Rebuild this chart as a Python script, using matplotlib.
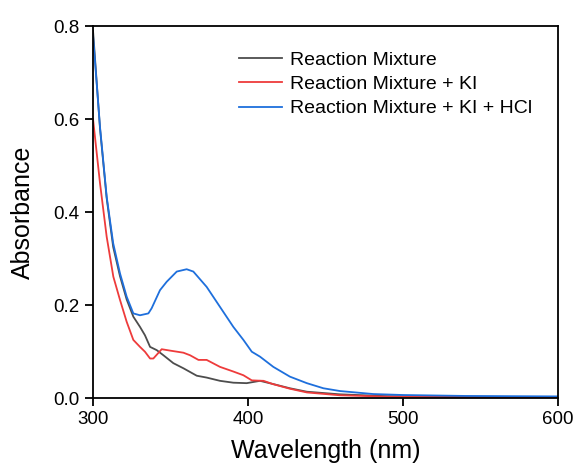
import matplotlib.pyplot as plt
import numpy as np

plt.rcParams['font.family'] = ['Liberation Sans', 'DejaVu Sans']

# Wavelength (nm) and absorbance values
wl_mix = [300, 304.5, 308.8, 313, 317.4, 321.7, 326, 330.3, 333.5, 336.8, 341.1, 345.4,
          351.8, 358.3, 366.9, 373.3, 381.9, 390.5, 399.1, 407.7, 416.3, 427, 437.9,
          459, 490, 530, 600]
abs_mix = [0.79, 0.58, 0.43, 0.325, 0.262, 0.212, 0.175, 0.153, 0.135, 0.110, 0.103, 0.092,
           0.075, 0.064, 0.048, 0.044, 0.037, 0.033, 0.032, 0.037, 0.030, 0.021, 0.0136,
           0.008, 0.004, 0.003, 0.002]

wl_ki = [300, 304.5, 308.8, 313.1, 317.4, 321.7, 326, 330.3, 333.5, 336.8, 338.9, 344.3,
         349.7, 358.3, 362.6, 368, 373.3, 381.9, 390.5, 397, 402.4, 410, 416, 427, 438,
         459, 490, 530, 600]
abs_ki = [0.60, 0.462, 0.347, 0.261, 0.211, 0.164, 0.125, 0.110, 0.0996, 0.085, 0.085, 0.105,
          0.102, 0.0975, 0.092, 0.082, 0.082, 0.067, 0.057, 0.049, 0.038, 0.037, 0.030,
          0.020, 0.012, 0.006, 0.003, 0.002, 0.001]

wl_hcl = [300, 304.5, 308.8, 313, 317.4, 321.7, 326, 330.3, 335.7, 337.8, 343.2, 347.5,
          354, 360.4, 364.7, 373.3, 381.9, 390.5, 397, 402.4, 407.7, 416.3, 427, 437.9,
          448.6, 459.4, 480.8, 500, 540, 600]
abs_hcl = [0.78, 0.583, 0.433, 0.333, 0.268, 0.218, 0.182, 0.178, 0.182, 0.193, 0.232, 0.250,
           0.272, 0.277, 0.272, 0.239, 0.196, 0.153, 0.125, 0.0996, 0.089, 0.067, 0.046, 0.032,
           0.021, 0.015, 0.0086, 0.0065, 0.0045, 0.0035]

labels = ['Reaction Mixture', 'Reaction Mixture + KI', 'Reaction Mixture + KI + HCl']
colors = ['#4d4d4d', '#ee3b3b', '#1e6fdc']

fig = plt.figure(figsize=(5.76, 4.65), dpi=100)
ax = fig.add_axes([0.1615, 0.144, 0.8075, 0.8])

ax.plot(wl_mix, abs_mix, color=colors[0], lw=1.3, label=labels[0])
ax.plot(wl_ki, abs_ki, color=colors[1], lw=1.3, label=labels[1])
ax.plot(wl_hcl, abs_hcl, color=colors[2], lw=1.3, label=labels[2])

ax.set_xlim(300, 600)
ax.set_ylim(0, 0.8)
ax.set_xticks([300, 400, 500, 600])
ax.set_yticks([0.0, 0.2, 0.4, 0.6, 0.8])
ax.yaxis.set_major_formatter(plt.FormatStrFormatter('%.1f'))
ax.tick_params(direction='out', length=6, width=1.3, pad=3.5, labelsize=13.5,
               top=False, right=False)
for s in ax.spines.values():
    s.set_linewidth(1.3)

ax.set_xlabel('Wavelength (nm)', fontsize=18, va='center')
ax.set_ylabel('Absorbance', fontsize=18, va='center')
# the reference crops the x label at the bottom edge; keep it just inside
ax.xaxis.set_label_coords(0.5, -0.143)
ax.yaxis.set_label_coords(-0.151, 0.5)

ax.legend(loc='upper left', bbox_to_anchor=(0.298, 0.953), frameon=False, fontsize=14,
          handlelength=2.2, handletextpad=0.4, labelspacing=0.34, borderaxespad=0)

fig.savefig('out.png', dpi=100)
